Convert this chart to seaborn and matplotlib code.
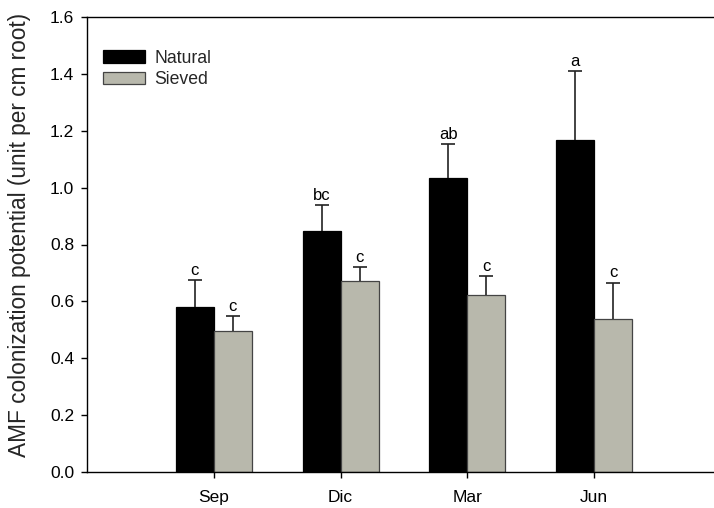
import matplotlib
matplotlib.use("Agg")
import matplotlib.pyplot as plt
from matplotlib.patches import Patch
import seaborn as sns
import pandas as pd
import numpy as np

# Sampling dates
months = ["Sep", "Dic", "Mar", "Jun"]
treatments = ["Natural", "Sieved"]

# Mean AMF colonization potential and standard error
natural_mean = [0.579, 0.848, 1.033, 1.167]
natural_se = [0.095, 0.091, 0.119, 0.244]
sieved_mean = [0.496, 0.672, 0.623, 0.539]
sieved_se = [0.051, 0.050, 0.066, 0.127]

# Letters from the post-hoc comparison
natural_letters = ["c", "bc", "ab", "a"]
sieved_letters = ["c", "c", "c", "c"]

df = pd.DataFrame({
    "month": months * 2,
    "treatment": [treatments[0]] * 4 + [treatments[1]] * 4,
    "value": natural_mean + sieved_mean,
})

sns.set_theme(style="white")
plt.rcParams["font.family"] = ["Liberation Sans", "DejaVu Sans"]

fig = plt.figure(figsize=(7.14, 5.08), dpi=100)
ax = fig.add_axes([87 / 714, 36 / 508, 634 / 714, 455 / 508])

palette = {"Natural": "#000000", "Sieved": "#b8b8ac"}
edge = {"Natural": "#000000", "Sieved": "#444444"}

sns.barplot(data=df, x="month", y="value", hue="treatment", order=months,
            hue_order=treatments, palette=palette, width=0.6, errorbar=None,
            saturation=1, ax=ax, legend=False)

for cont, trt, se, letters, means in zip(ax.containers, treatments,
                                         [natural_se, sieved_se],
                                         [natural_letters, sieved_letters],
                                         [natural_mean, sieved_mean]):
    xs = []
    for bar in cont:
        bar.set_edgecolor(edge[trt])
        bar.set_linewidth(0.9)
        xs.append(bar.get_x() + bar.get_width() / 2)
    xs = np.array(xs)
    # upper-only error bars
    _, caps, _ = ax.errorbar(xs, means, yerr=[np.zeros(len(se)), se],
                             fmt="none", ecolor="#222222", elinewidth=1.2,
                             capsize=4.8, capthick=1.2, zorder=3)
    caps[0].set_visible(False)
    for x, m, s, lab in zip(xs, means, se, letters):
        ax.text(x, m + s + 0.018, lab, ha="center", va="baseline",
                fontsize=12, color="#000000")

ax.set_xlim(-1, 4)
ax.set_ylim(0, 1.6)
yt = np.arange(0, 1.61, 0.2)
ax.set_yticks(yt)
ax.set_yticklabels([f"{v:.1f}" for v in yt])
ax.set_xlabel("")
ax.set_ylabel("AMF colonization potential (unit per cm root)", fontsize=16.3)
ax.yaxis.set_label_coords(-0.088, 0.521)

for side in ["left", "bottom", "top"]:
    ax.spines[side].set_visible(True)
    ax.spines[side].set_color("#000000")
    ax.spines[side].set_linewidth(1.0)
ax.spines["right"].set_visible(False)

ax.tick_params(axis="both", which="major", direction="out", length=4.3,
               width=1.0, color="#000000", labelsize=12.5,
               labelcolor="#000000", left=True, bottom=True)
ax.tick_params(axis="x", pad=9)
ax.tick_params(axis="y", pad=5)

# Legend
handles = [Patch(facecolor=palette[t], edgecolor=edge[t], linewidth=0.9,
                 label=t) for t in treatments]
ax.legend(handles=handles, loc="upper left", bbox_to_anchor=(0.0252, 0.928),
          frameon=False, fontsize=12.7, handlelength=2.4, handleheight=0.74,
          handletextpad=0.5, labelspacing=0.25, borderpad=0,
          borderaxespad=0)

fig.savefig("out.png", dpi=100)
